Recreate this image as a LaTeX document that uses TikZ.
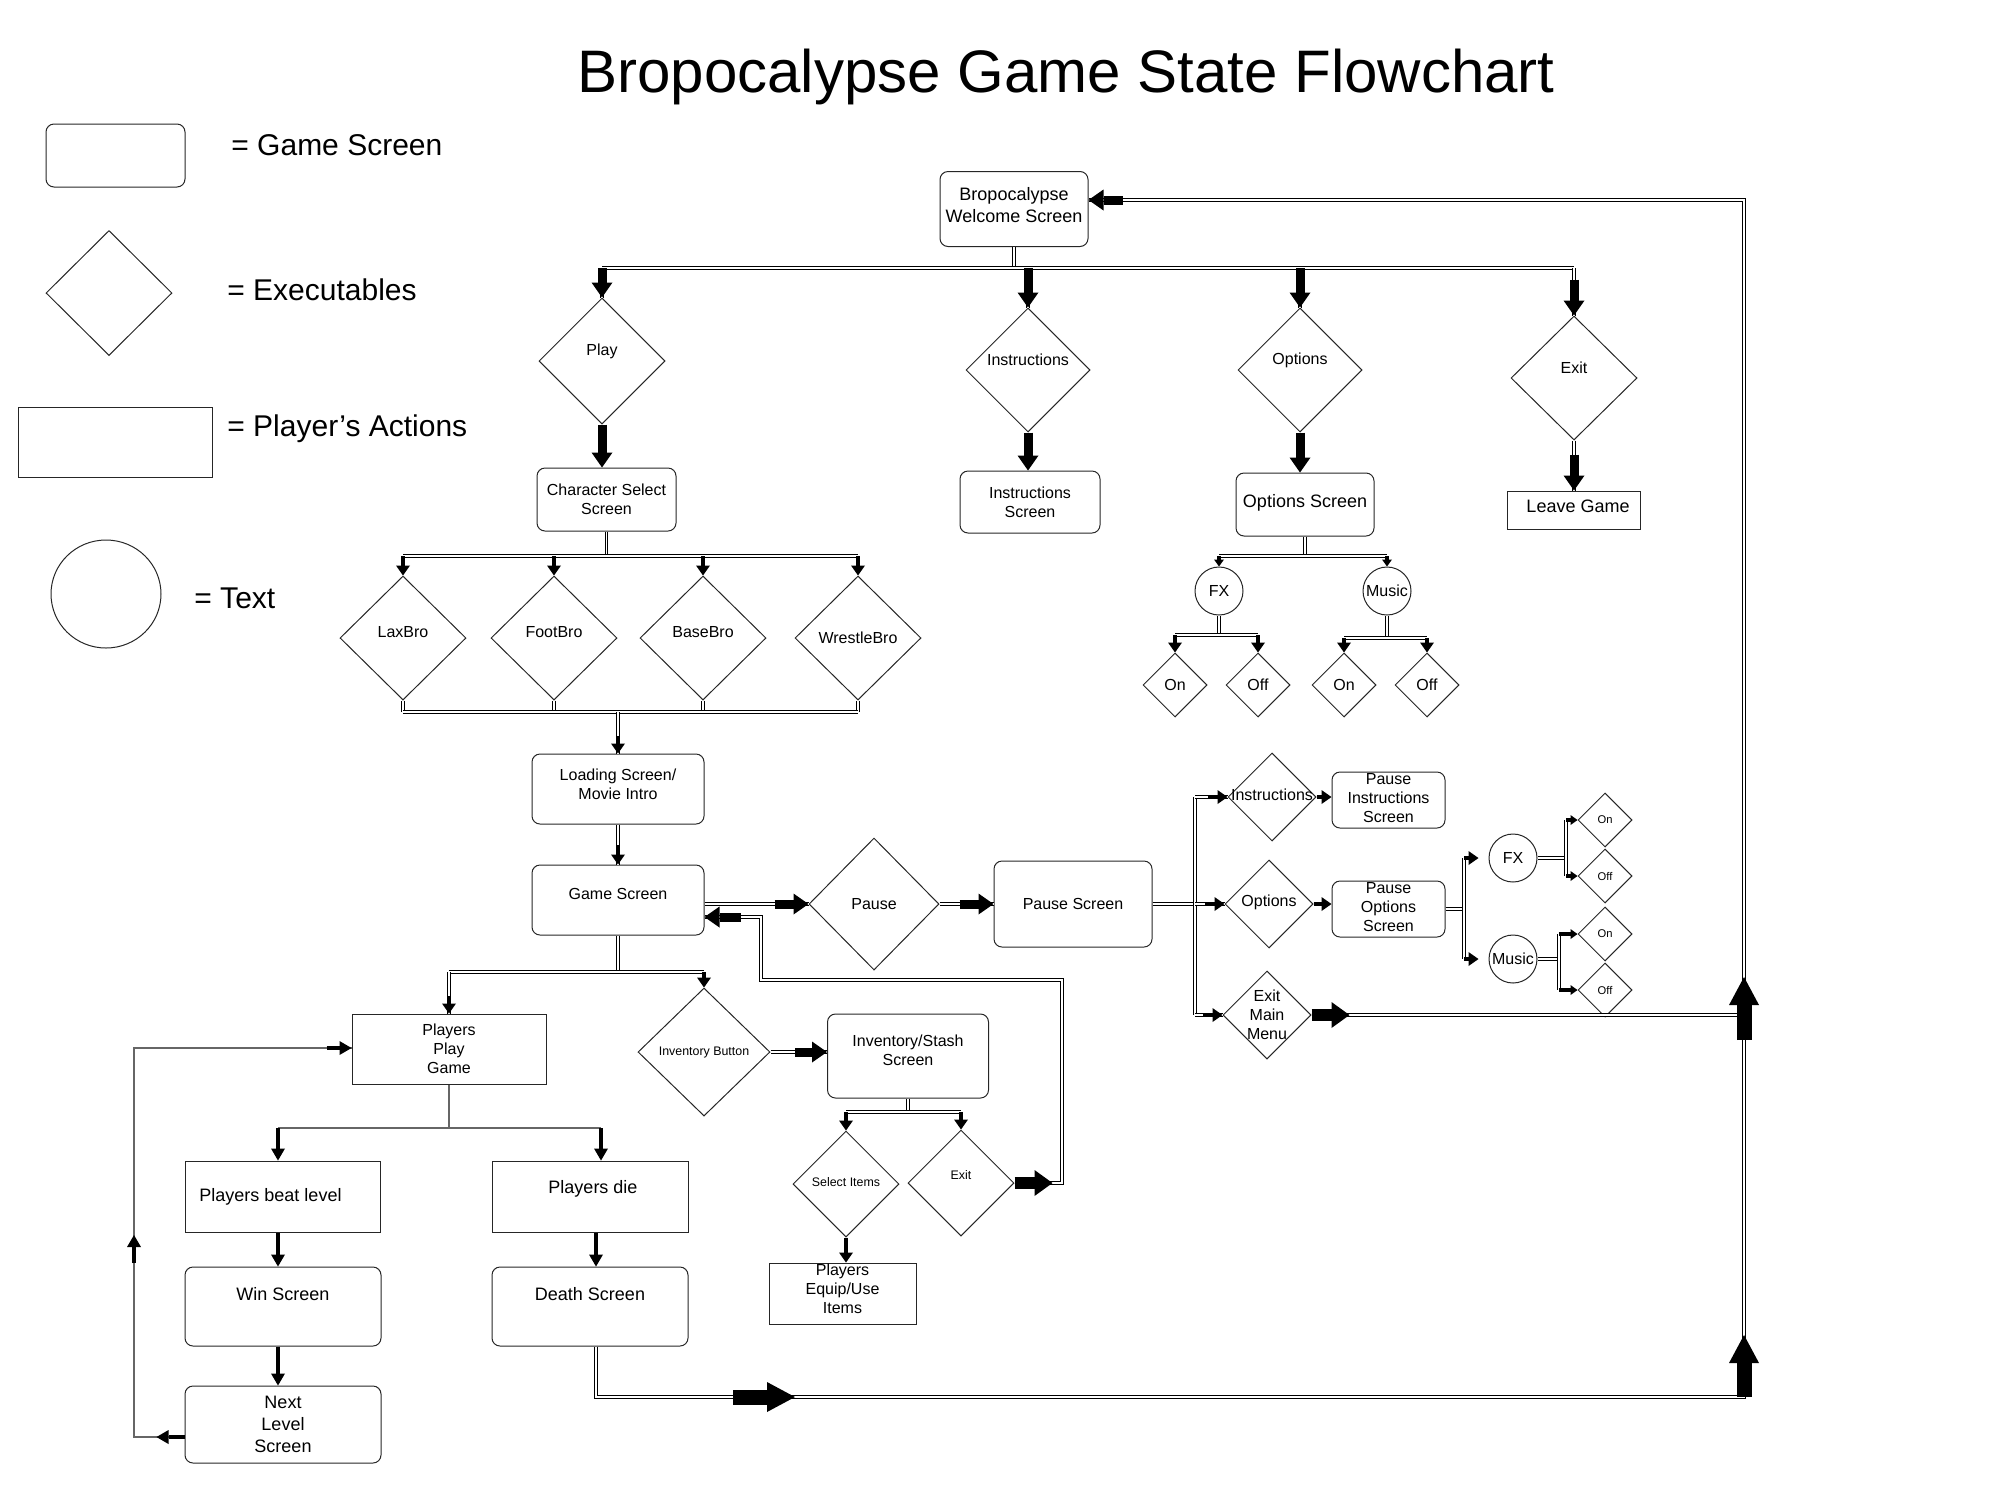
\documentclass[tikz,border=0pt]{standalone}
\usepackage{fontspec}
\setmainfont{Liberation Sans}
\usetikzlibrary{shapes.geometric,arrows.meta,calc}
\tikzset{
  dl/.style={draw=black, line width=0.45pt, double=white, double distance=0.8pt},
  sl/.style={draw=black!60, line width=0.9pt},
  gs/.style={draw=black!85, rounded corners=4pt, line width=0.5pt, inner sep=0},
  pa/.style={draw=black!85, line width=0.5pt, inner sep=0},
  ex/.style={draw=black!85, diamond, line width=0.5pt, inner sep=0},
  tx/.style={draw=black!85, circle, line width=0.5pt, inner sep=0},
  f5/.style={font=\fontsize{5.6}{6.7}\selectfont, align=center, inner sep=0},
  f6/.style={font=\fontsize{6.2}{7.4}\selectfont, align=center, inner sep=0},
  f8/.style={font=\fontsize{8}{9.5}\selectfont, align=center, inner sep=0},
  f9/.style={font=\fontsize{9}{11}\selectfont, align=center, inner sep=0},
  lgt/.style={font=\fontsize{15}{18}\selectfont, anchor=west, inner sep=0},
  aXS/.style={line width=1.6pt, -{Triangle[length=3.5pt,width=5pt,line width=0pt]}},
  aS/.style={line width=2.3pt, -{Triangle[length=5pt,width=7pt,line width=0pt]}},
  aS2/.style={line width=2.4pt, -{Triangle[length=6pt,width=7pt,line width=0pt]}},
  aM/.style={line width=4.5pt, -{Triangle[length=7.5pt,width=10.5pt,line width=0pt]}},
  aE/.style={line width=6pt, -{Triangle[length=9pt,width=13pt,line width=0pt]}},
  aL/.style={line width=7.5pt, -{Triangle[length=14pt,width=15pt,line width=0pt]}},
}
\begin{document}
\begin{tikzpicture}[x=0.5pt,y=-0.5pt]
\useasboundingbox (0,0) rectangle (2000,1500);

% title
\node[font=\fontsize{30}{36}\selectfont, inner sep=0] (title) at (1066,77) {Bropocalypse Game State Flowchart};

% legend
\node[gs, minimum width=69.5pt, minimum height=31.5pt] (lg1) at (115.5,155.5) {};
\node[lgt] (lt1) at (231,145) {= Game Screen};
\node[ex, minimum width=63pt, minimum height=62.5pt] (lg2) at (109,293) {};
\node[lgt] (lt2) at (227,290) {= Executables};
\node[pa, minimum width=97pt, minimum height=35pt] (lg3) at (115,442) {};
\node[lgt] (lt3) at (227,429) {= Player’s Actions};
\node[draw=black!85, ellipse, line width=0.5pt, inner sep=0, minimum width=55pt, minimum height=54pt] (lg4) at (106,594) {};
\node[lgt] (lt4) at (194,598) {= Text};

% top level
\node[gs, minimum width=74pt, minimum height=37.5pt, label={[f9,yshift=2pt]center:{Bropocalypse\\Welcome Screen}}] (wel) at (1014,209) {};
\node[ex, minimum width=63pt, minimum height=63pt, label={[f8,yshift=5pt]center:Play}] (play) at (602,361) {};
\node[ex, minimum width=62pt, minimum height=62pt, label={[f8,yshift=5pt]center:Instructions}] (ins) at (1028,370) {};
\node[ex, minimum width=62pt, minimum height=62pt, label={[f8,yshift=5pt]center:Options}] (opt) at (1300,370) {};
\node[ex, minimum width=63pt, minimum height=62pt, label={[f8,yshift=5pt]center:Exit}] (exit) at (1574,378) {};
\node[gs, minimum width=69.5pt, minimum height=31.5pt, label={[f8]center:{Character Select\\Screen}}] (cs) at (606.5,499.5) {};
\node[gs, minimum width=70pt, minimum height=31pt, label={[f8]center:{Instructions\\Screen}}] (is) at (1030,502) {};
\node[gs, minimum width=69pt, minimum height=31.5pt, label={[f9,yshift=1pt]center:Options Screen}] (os) at (1305,504.5) {};
\node[pa, minimum width=66.5pt, minimum height=19pt, label={[f9,yshift=2pt,xshift=2pt]center:Leave Game}] (lg) at (1574,510) {};

% bros
\node[ex, minimum width=63pt, minimum height=62pt, label={[f8,yshift=3pt]center:LaxBro}] (lax) at (403,638) {};
\node[ex, minimum width=63pt, minimum height=62pt, label={[f8,yshift=3pt]center:FootBro}] (foot) at (554,638) {};
\node[ex, minimum width=63pt, minimum height=62pt, label={[f8,yshift=3pt]center:BaseBro}] (base) at (703,638) {};
\node[ex, minimum width=63pt, minimum height=62pt, label={[f8]center:WrestleBro}] (wre) at (858,638) {};

% options tree
\node[tx, minimum size=24pt, label={[f8]center:FX}] (fx1) at (1219,591) {};
\node[tx, minimum size=24pt, label={[f8]center:Music}] (mu1) at (1387,591) {};
\node[ex, minimum width=32pt, minimum height=32pt, label={[f8]center:On}] (on1) at (1175,685) {};
\node[ex, minimum width=32pt, minimum height=32pt, label={[f8]center:Off}] (off1) at (1258,685) {};
\node[ex, minimum width=32pt, minimum height=32pt, label={[f8]center:On}] (on1b) at (1344,685) {};
\node[ex, minimum width=32pt, minimum height=32pt, label={[f8]center:Off}] (off1b) at (1427,685) {};

% game
\node[gs, minimum width=86pt, minimum height=35pt, label={[f8,yshift=2.5pt]center:{Loading Screen/\\Movie Intro}}] (load) at (618,789) {};
\node[gs, minimum width=86pt, minimum height=35pt, label={[f8,yshift=3pt]center:Game Screen}] (game) at (618,900) {};
\node[ex, minimum width=65pt, minimum height=66pt, label={[f8]center:Pause}] (pause) at (874,904) {};
\node[gs, minimum width=79pt, minimum height=43pt, label={[f8]center:Pause Screen}] (ps) at (1073,904) {};

% pause branch
\node[ex, minimum width=44pt, minimum height=44pt, label={[f8,yshift=1pt]center:Instructions}] (pi) at (1272,797) {};
\node[gs, minimum width=56.5pt, minimum height=28pt, label={[f8,yshift=1pt]center:{Pause\\Instructions\\Screen}}] (pis) at (1388.5,800) {};
\node[ex, minimum width=44pt, minimum height=44pt, label={[f8,yshift=1pt]center:Options}] (po) at (1269,904) {};
\node[gs, minimum width=56.5pt, minimum height=28pt, label={[f8,yshift=1pt]center:{Pause\\Options\\Screen}}] (pos) at (1388.5,909) {};
\node[ex, minimum width=44pt, minimum height=44pt, label={[f8]center:{Exit\\Main\\Menu}}] (pem) at (1267,1015) {};
\node[tx, minimum size=24pt, label={[f8]center:FX}] (fx2) at (1513,858) {};
\node[tx, minimum size=24pt, label={[f8]center:Music}] (mu2) at (1513,959) {};
\node[ex, minimum width=27pt, minimum height=27pt, label={[f5]center:On}] (on2) at (1605,820) {};
\node[ex, minimum width=27pt, minimum height=27pt, label={[f5]center:Off}] (off2) at (1605,876) {};
\node[ex, minimum width=27pt, minimum height=27pt, label={[f5]center:On}] (on3) at (1605,934) {};
\node[ex, minimum width=27pt, minimum height=27pt, label={[f5]center:Off}] (off3) at (1605,990) {};

% play / inventory
\node[pa, minimum width=97pt, minimum height=35pt, label={[f8]center:{Players\\Play\\Game}}] (ppg) at (449,1049) {};
\node[ex, minimum width=66pt, minimum height=64pt, label={[f6]center:Inventory Button}] (ib) at (704,1052) {};
\node[gs, minimum width=80.5pt, minimum height=42pt, label={[f8,yshift=3pt]center:{Inventory/Stash\\Screen}}] (inv) at (908,1056) {};
\node[ex, minimum width=53pt, minimum height=53pt, label={[f6,yshift=1pt]center:Select Items}] (si) at (846,1184) {};
\node[ex, minimum width=53pt, minimum height=53pt, label={[f6,yshift=4pt]center:Exit}] (ex2) at (961,1183) {};
\node[pa, minimum width=73.5pt, minimum height=30.5pt, label={[f8,yshift=2.5pt]center:{Players\\Equip/Use\\Items}}] (peu) at (842.5,1293.5) {};

\node[pa, minimum width=97.5pt, minimum height=35.5pt, label={[f9,xshift=-6pt]center:Players beat level}] (pbl) at (282.5,1196.5) {};
\node[pa, minimum width=98pt, minimum height=35.5pt, label={[f9,yshift=4pt,xshift=1.5pt]center:Players die}] (pdie) at (590,1196.5) {};
\node[gs, minimum width=98pt, minimum height=39.5pt, label={[f9,yshift=6pt]center:Win Screen}] (win) at (283,1306.5) {};
\node[gs, minimum width=98pt, minimum height=39.5pt, label={[f9,yshift=6pt]center:Death Screen}] (death) at (590,1306.5) {};
\node[gs, minimum width=98pt, minimum height=38.5pt, label={[f9]center:{Next\\Level\\Screen}}] (next) at (283,1424.5) {};

% ---------- connectors ----------
% welcome bus
\draw[dl] (wel.south) -- (wel.south |- 0,268);
\draw[dl] (play.north |- 0,268) -- (exit.north |- 0,268);
\foreach \n in {play,ins,opt,exit} {\draw[dl] (\n.north |- 0,268) -- (\n.north);}
\draw[aM] (play.north |- 0,268) -- (play.north);
\draw[aM] (ins.north |- 0,268) -- (ins.north);
\draw[aM] (opt.north |- 0,268) -- (opt.north);
\draw[aM] ([yshift=18pt]exit.north) -- (exit.north);

\draw[aM] (play.south) -- (play.south |- cs.north);
\draw[aM] (ins.south) -- (ins.south |- is.north);
\draw[aM] (opt.south) -- (opt.south |- os.north);
\draw[dl] (exit.south) -- (lg.north);
\draw[aM] ([yshift=18pt]lg.north) -- (lg.north);

% character select bus
\draw[dl] (cs.south) -- (cs.south |- 0,556);
\draw[dl] (lax.north |- 0,556) -- (wre.north |- 0,556);
\foreach \n in {lax,foot,base,wre} {\draw[aS] (\n.north |- 0,556) -- (\n.north);}
\foreach \n in {lax,foot,base,wre} {\draw[dl] (\n.south) -- (\n.south |- 0,712);}
\draw[dl] (lax.south |- 0,712) -- (wre.south |- 0,712);
\draw[dl] (load.north |- 0,712) -- (load.north);
\draw[aS] ([yshift=9pt]load.north) -- (load.north);
\draw[dl] (load.south) -- (game.north);
\draw[aS] ([yshift=10pt]game.north) -- (game.north);

% options tree
\draw[dl] (os.south) -- (os.south |- 0,556);
\draw[dl] (fx1.north |- 0,556) -- (mu1.north |- 0,556);
\foreach \n in {fx1,mu1} {\draw[aXS] (\n.north |- 0,556) -- (\n.north);}
\draw[dl] (fx1.south) -- (fx1.south |- 0,635);
\draw[dl] (on1.north |- 0,635) -- (off1.north |- 0,635);
\foreach \n in {on1,off1} {\draw[aS] (\n.north |- 0,635) -- (\n.north);}
\draw[dl] (mu1.south) -- (mu1.south |- 0,638);
\draw[dl] (on1b.north |- 0,638) -- (off1b.north |- 0,638);
\foreach \n in {on1b,off1b} {\draw[aS] (\n.north |- 0,638) -- (\n.north);}

% game -> pause -> pause screen
\draw[dl] (game.east |- pause.west) -- (pause.west);
\draw[aM] ([xshift=-17pt]pause.west) -- (pause.west);
\draw[dl] (pause.east) -- (ps.west);
\draw[aM] ([xshift=-17pt]ps.west) -- (ps.west);

% pause branch
\draw[dl] (ps.east) -- (ps.east -| 1195,0);
\draw[dl] (pi.west -| 1195,0) -- (pem.west -| 1195,0);
\foreach \n in {pi,po,pem} {\draw[dl] (\n.west -| 1195,0) -- (\n.west);
  \draw[aS] ([xshift=-10pt]\n.west) -- (\n.west);}
\draw[aS] (pi.east) -- (pis.west |- pi.east);
\draw[aS] (po.east) -- (pos.west |- po.east);
\draw[dl] (pos.east) -- (pos.east -| 1464,0);
\draw[dl] (fx2.west -| 1464,0) -- (mu2.west -| 1464,0);
\foreach \n in {fx2,mu2} {\draw[aS] (\n.west -| 1464,0) -- ([xshift=-5pt]\n.west);}
\draw[dl] (fx2.east) -- (fx2.east -| 1566,0);
\draw[dl] (on2.west -| 1566,0) -- (off2.west -| 1566,0);
\foreach \n in {on2,off2} {\draw[aXS] (\n.west -| 1566,0) -- (\n.west);}
\draw[dl] (mu2.east) -- (mu2.east -| 1559,0);
\draw[dl] (on3.west -| 1559,0) -- (off3.west -| 1559,0);
\foreach \n in {on3,off3} {\draw[aXS] (\n.west -| 1559,0) -- (\n.west);}

% right loop back to welcome
\coordinate (bb) at (596,1397);
\coordinate (rb) at (1744,1397);
\coordinate (rt) at (1744,200);
\coordinate (wi) at (wel.east |- rt);
\coordinate (da1) at (733,1397);
\coordinate (da2) at (795,1397);
\coordinate (ua1) at (1744,1335);
\coordinate (ua2) at (1744,1040);
\coordinate (ua3) at (1744,977);
\draw[dl] (death.south -| bb) -- (bb) -- (rb) -- (rt) -- (wi);
\draw[dl] (pem.east) -- (pem.east -| rb);
\draw[aE] (pem.east) -- ([xshift=19pt]pem.east);
\draw[aL] (da1) -- (da2);
\draw[aL] (rb) -- (ua1);
\draw[aL] (ua2) -- (ua3);
\draw[aM] ([xshift=17pt]wi) -- (wi);

% game -> players / inventory
\draw[dl] (game.south) -- (game.south |- 0,972);
\draw[dl] (ppg.north |- 0,972) -- (ib.north |- 0,972);
\draw[dl] (ppg.north |- 0,972) -- (ppg.north);
\draw[aS] ([yshift=9pt]ppg.north) -- (ppg.north);
\draw[aS] (ib.north |- 0,972) -- (ib.north);
\coordinate (ci) at (inv.west |- ib.east);
\draw[dl] (ib.east) -- (ci);
\draw[aM] ([xshift=-16pt]ci) -- (ci);
\draw[dl] (inv.south) -- (inv.south |- 0,1112);
\draw[dl] (si.north |- 0,1112) -- (ex2.north |- 0,1112);
\foreach \n in {si,ex2} {\draw[aS] (\n.north |- 0,1112) -- (\n.north);}
\draw[aS] (si.south) -- (si.south |- peu.north);

% inventory exit -> back to game
\coordinate (r1) at (1062,980);
\coordinate (r2) at (761,917);
\coordinate (gin) at (game.east |- r2);
\draw[dl] (ex2.east) -| (r1) -| (r2) -- (gin);
\draw[aE] (ex2.east) -- ([xshift=19pt]ex2.east);
\draw[aM] ([xshift=18pt]gin) -- (gin);

% players play game tree
\coordinate (bL) at (278,1128);
\coordinate (bR) at (601,1128);
\draw[sl] (ppg.south) -- (ppg.south |- bL);
\draw[sl] (bL) -- (bR);
\draw[aS2] (bL) -- (pbl.north -| bL);
\draw[aS2] (bR) -- (pdie.north -| bR);
\draw[aS2] (pbl.south -| bL) -- (win.north -| bL);
\draw[aS2] (pdie.south -| bb) -- (death.north -| bb);
\draw[aS2] (win.south -| bL) -- (next.north -| bL);

% next level loop
\coordinate (lp1) at (134,1437);
\coordinate (lp2) at (134,1048);
\coordinate (na) at (next.west |- lp1);
\coordinate (pa) at (ppg.west |- lp2);
\coordinate (la1) at (134,1263);
\coordinate (la2) at (134,1235);
\draw[sl] (na) -- (lp1) -- (lp2) -- (pa);
\draw[aS2] (na) -- ([xshift=-14pt]na);
\draw[aS2] (la1) -- (la2);
\draw[aS2] ([xshift=-12.5pt]pa) -- (pa);
\end{tikzpicture}
\end{document}
